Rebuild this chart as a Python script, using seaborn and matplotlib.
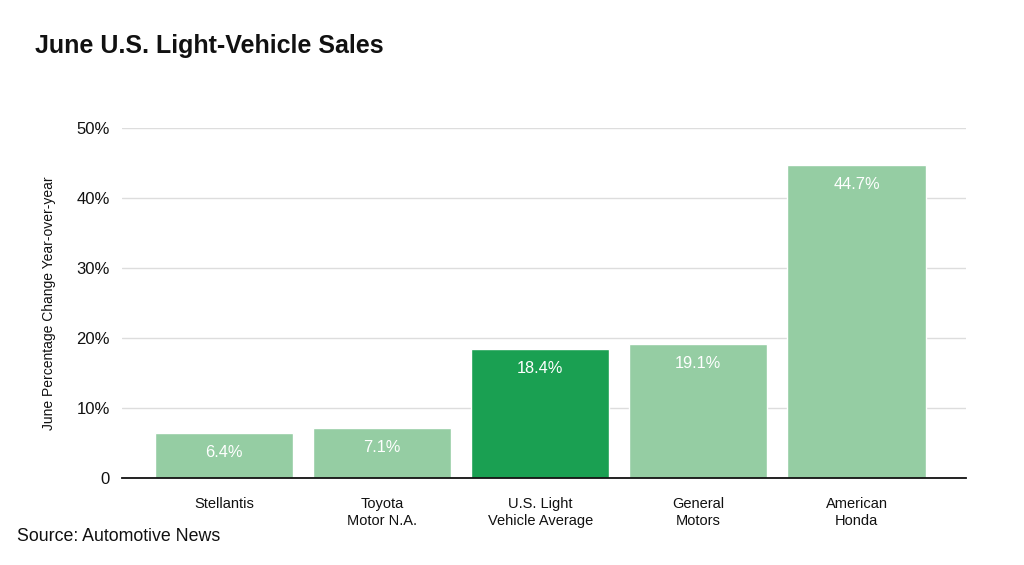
import matplotlib
matplotlib.use("Agg")
import matplotlib.pyplot as plt
import seaborn as sns
import pandas as pd

categories = ["Stellantis", "Toyota\nMotor N.A.", "U.S. Light\nVehicle Average", "General\nMotors", "American\nHonda"]
values = [6.4, 7.1, 18.4, 19.1, 44.7]
highlight = [False, False, True, False, False]
yticks = [0, 10, 20, 30, 40, 50]
ytick_labels = ["0", "10%", "20%", "30%", "40%", "50%"]

LIGHT = "#95CDA3"
DARK = "#1AA052"

sns.set_theme(style="white")
plt.rcParams["font.family"] = ["Liberation Sans", "DejaVu Sans"]

df = pd.DataFrame({"company": categories, "value": values,
                   "kind": ["avg" if h else "other" for h in highlight]})

fig = plt.figure(figsize=(10.24, 5.65), dpi=100)
ax = fig.add_axes([0.119, 0.154, 0.824, 0.619])

sns.barplot(data=df, x="company", y="value", hue="kind",
            palette={"avg": DARK, "other": LIGHT}, width=0.873,
            dodge=False, legend=False, ax=ax, zorder=3, saturation=1)

ax.set_ylim(0, 50)
ax.set_xlim(-0.645, 4.69)
ax.set_yticks(yticks)
ax.set_yticklabels(ytick_labels, fontsize=12, color="#111111")
ax.yaxis.grid(True, color="#dddddd", linewidth=1, zorder=0)
ax.set_axisbelow(True)
for s in ["top", "right", "left"]:
    ax.spines[s].set_visible(False)
ax.spines["bottom"].set_color("#111111")
ax.spines["bottom"].set_linewidth(1.3)
ax.spines["bottom"].set_zorder(5)
ax.tick_params(axis="both", length=0)
ax.tick_params(axis="y", pad=8.5)
ax.tick_params(axis="x", pad=14)
for lab in ax.get_xticklabels():
    lab.set_fontsize(10.5)
    lab.set_color("#111111")
ax.set_xlabel("")
ax.set_ylabel("June Percentage Change Year-over-year", fontsize=10, color="#111111", labelpad=15)

for i, v in enumerate(values):
    ax.annotate(f"{v:.1f}%", xy=(i, v), xytext=(0, -8.5), textcoords="offset points",
                ha="center", va="top", color="white", fontsize=11.8, zorder=6)

fig.text(0.034, 0.918, "June U.S. Light-Vehicle Sales", fontsize=18, fontweight="bold",
         color="#111111", va="center", ha="left")
fig.text(0.017, 0.051, "Source: Automotive News", fontsize=12.8, color="#111111",
         va="center", ha="left")

fig.savefig("out.png", dpi=100)
